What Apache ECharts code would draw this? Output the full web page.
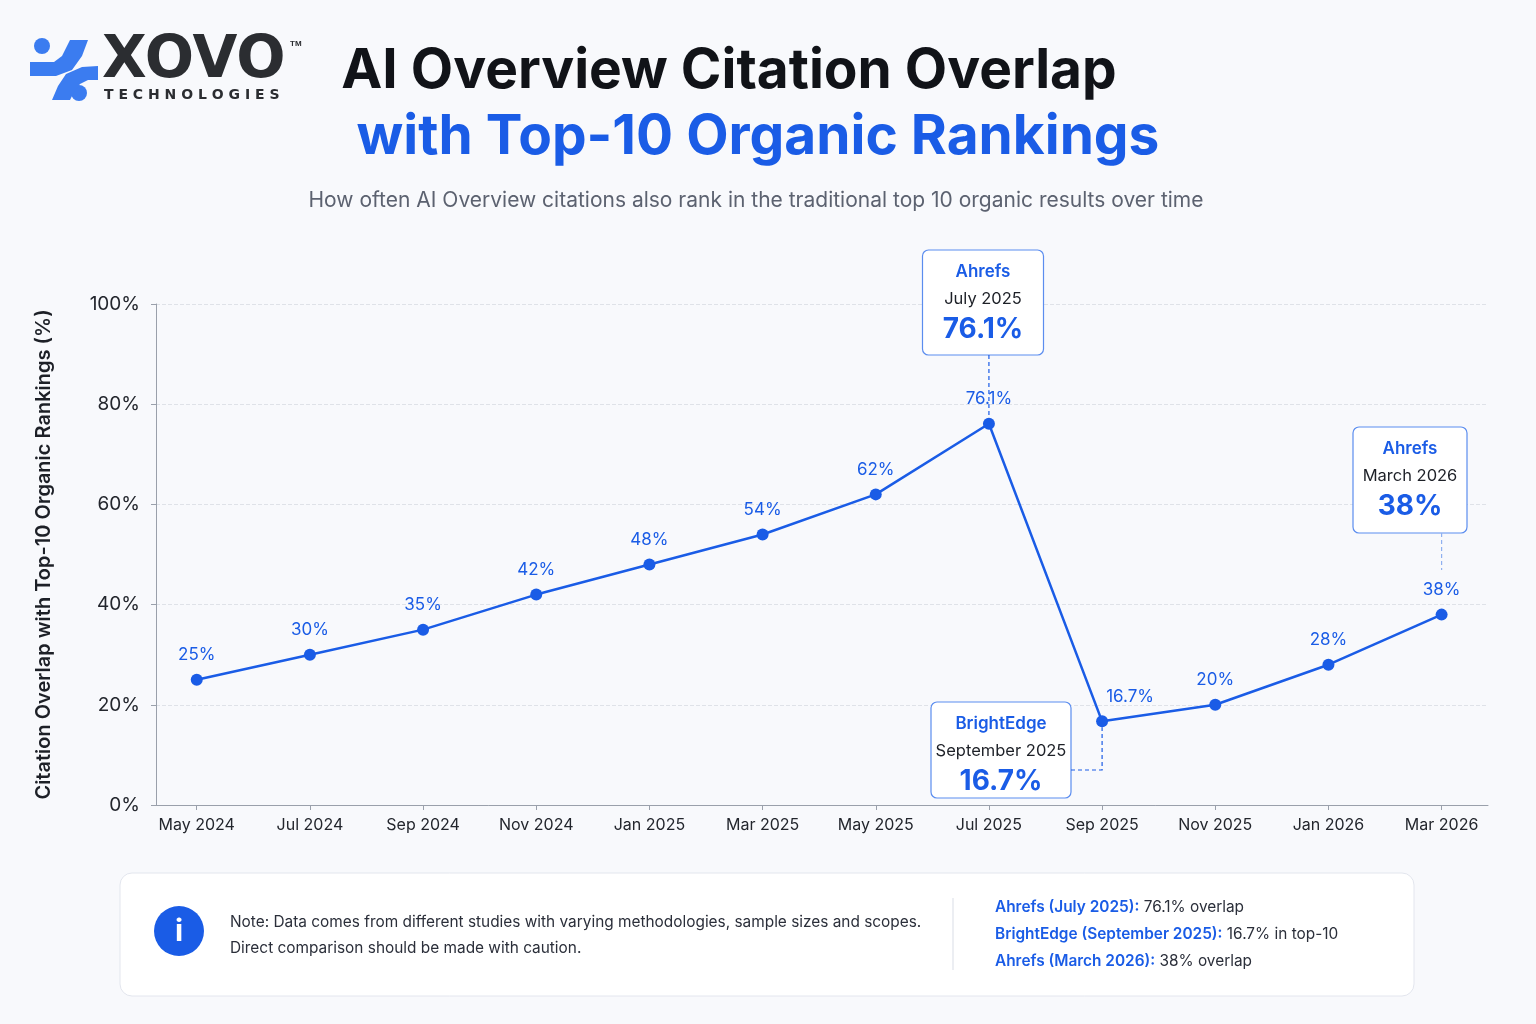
<!DOCTYPE html>
<html><head><meta charset="utf-8">
<script src="https://cdn.jsdelivr.net/npm/echarts@6/dist/echarts.min.js"></script>
<style>html,body{margin:0;padding:0;background:#f8f9fc}#c{width:1536px;height:1024px}</style>
</head><body><div id="c"></div>
<script>
const categories = ['May 2024','Jul 2024','Sep 2024','Nov 2024','Jan 2025','Mar 2025','May 2025','Jul 2025','Sep 2025','Nov 2025','Jan 2026','Mar 2026'];
const overlap = [25,30,35,42,48,54,62,76.1,16.7,20,28,38];
const pointLabels = ['25%','30%','35%','42%','48%','54%','62%','76.1%','16.7%','20%','28%','38%'];
const yTicks = [0,20,40,60,80,100];
const callouts = [
  {idx:7, source:'Ahrefs', date:'July 2025', value:'76.1%'},
  {idx:8, source:'BrightEdge', date:'September 2025', value:'16.7%'},
  {idx:11, source:'Ahrefs', date:'March 2026', value:'38%'}
];
const BLUE='#1a5ce6', F='Inter, "Noto Sans", sans-serif';
const chart = echarts.init(document.getElementById('c'));
const base = [
  {type:'circle',shape:{cx:42,cy:46,r:8},style:{fill:'#3b7cf0'}},
  {type:'circle',shape:{cx:79,cy:93,r:8},style:{fill:'#3b7cf0'}},
  {type:'polygon',shape:{points:[[30,62],[54,62],[62,56],[70,40],[88,40],[82,56],[72,70],[56,76],[30,76]]},style:{fill:'#3b7cf0'}},
  {type:'polygon',shape:{points:[[52,100],[58,86],[66,74],[82,67],[98,66],[98,80],[88,80],[80,84],[74,92],[70,100]]},style:{fill:'#3b7cf0'}},
  {type:'text',left:102,top:33,style:{text:'XOVO',font:'900 58px "DejaVu Sans", sans-serif',fill:'#2b2d31'}},
  {type:'text',left:290,top:40,style:{text:'TM',font:'bold 8px sans-serif',fill:'#2b2d31'}},
  {type:'text',left:104,top:88,style:{text:'T E C H N O L O G I E S',font:'bold 14px "DejaVu Sans", sans-serif',fill:'#2b2d31'}},
  {type:'text',x:729,y:71,style:{text:'AI Overview Citation Overlap',font:'bold 55px '+F,fill:'#111318',align:'center',verticalAlign:'middle'}},
  {type:'text',x:758,y:137,style:{text:'with Top-10 Organic Rankings',font:'bold 55px '+F,fill:BLUE,align:'center',verticalAlign:'middle'}},
  {type:'text',x:756,y:201,style:{text:'How often AI Overview citations also rank in the traditional top 10 organic results over time',font:'21px '+F,fill:'#5c6270',align:'center',verticalAlign:'middle'}},
  {type:'rect',shape:{x:120,y:873,width:1294,height:123,r:12},style:{fill:'#fff',stroke:'#e3e6ee',lineWidth:1}},
  {type:'circle',shape:{cx:179,cy:931,r:25},style:{fill:BLUE}},
  {type:'text',x:179,y:932,style:{text:'i',font:'bold 30px '+F,fill:'#fff',align:'center',verticalAlign:'middle'}},
  {type:'text',x:230,y:922,style:{text:'Note: Data comes from different studies with varying methodologies, sample sizes and scopes.',font:'15.4px '+F,fill:'#2b2f3a',verticalAlign:'middle'}},
  {type:'text',x:230,y:948,style:{text:'Direct comparison should be made with caution.',font:'15.4px '+F,fill:'#2b2f3a',verticalAlign:'middle'}},
  {type:'line',shape:{x1:953,y1:898,x2:953,y2:970},style:{stroke:'#d9dde6',lineWidth:1}}
];
const notes=[['Ahrefs (July 2025):',' 76.1% overlap'],['BrightEdge (September 2025):',' 16.7% in top-10'],['Ahrefs (March 2026):',' 38% overlap']];
notes.forEach((n,i)=>base.push({type:'text',x:995,y:907+i*27,style:{text:'{b|'+n[0]+'}{n|'+n[1]+'}',verticalAlign:'middle',rich:{b:{fontFamily:F,fontSize:15.4,fontWeight:600,fill:BLUE,color:BLUE},n:{fontFamily:F,fontSize:15.4,fill:'#2b2f3a',color:'#2b2f3a'}}}}));

chart.setOption({
  backgroundColor:'#f8f9fc',animation:false,
  grid:{left:156,right:48,top:304,bottom:219},
  xAxis:{type:'value',min:-0.36,max:11.41,splitLine:{show:false},
    axisLine:{show:true,onZero:false,lineStyle:{color:'#9aa0ab'}},
    axisTick:{show:true,customValues:categories.map((c,i)=>i),lineStyle:{color:'#9aa0ab'}},
    axisLabel:{customValues:categories.map((c,i)=>i),formatter:v=>categories[Math.round(v)],color:'#23262d',fontSize:16,fontFamily:F,margin:12}},
  yAxis:{type:'value',min:0,max:100,interval:20,
    name:'Citation Overlap with Top-10 Organic Rankings (%)',nameLocation:'middle',nameGap:102,
    nameTextStyle:{fontSize:20,fontWeight:600,color:'#1d2027',fontFamily:F},
    axisLine:{show:true,onZero:false,lineStyle:{color:'#9aa0ab'}},axisTick:{show:true,lineStyle:{color:'#9aa0ab'}},
    axisLabel:{formatter:'{value}%',color:'#23262d',fontSize:19,fontFamily:F,margin:16},
    splitLine:{lineStyle:{type:'dashed',color:'#dfe2e8'}}},
  series:[{type:'line',data:overlap.map((v,i)=>i===8?{value:[i,v],label:{offset:[28,0]}}:[i,v]),symbol:'circle',symbolSize:12,
    lineStyle:{color:BLUE,width:2.5},itemStyle:{color:BLUE},
    label:{show:true,position:'top',distance:10,formatter:p=>pointLabels[p.dataIndex],color:BLUE,fontSize:17,fontFamily:F}}],
  graphic:base
});

const g = base.slice();
const dash={stroke:BLUE,lineWidth:1.2,lineDash:[4,3]};
function box(cx,top,w,h,c){
  g.push({type:'rect',shape:{x:cx-w/2,y:top,width:w,height:h,r:6},style:{fill:'#fff',stroke:'#5b8def',lineWidth:1.2}});
  g.push({type:'text',x:cx,y:top+22,style:{text:c.source,font:'600 17px '+F,fill:BLUE,align:'center',verticalAlign:'middle'}});
  g.push({type:'text',x:cx,y:top+49,style:{text:c.date,font:'16.5px '+F,fill:'#1d2027',align:'center',verticalAlign:'middle'}});
  g.push({type:'text',x:cx,y:top+80,style:{text:c.value,font:'bold 28px '+F,fill:BLUE,align:'center',verticalAlign:'middle'}});
}
const p0=chart.convertToPixel({gridIndex:0},[callouts[0].idx,overlap[callouts[0].idx]]);
box(983,250,121,105,callouts[0]);
g.push({type:'line',shape:{x1:p0[0],y1:355,x2:p0[0],y2:p0[1]-6},style:dash});
const p1=chart.convertToPixel({gridIndex:0},[callouts[1].idx,overlap[callouts[1].idx]]);
box(1001,702,140,96,callouts[1]);
g.push({type:'polyline',shape:{points:[[1071,770],[p1[0],770],[p1[0],p1[1]+6]]},style:Object.assign({fill:null},dash)});
const p2=chart.convertToPixel({gridIndex:0},[callouts[2].idx,overlap[callouts[2].idx]]);
box(1410,427,114,106,callouts[2]);
g.push({type:'line',shape:{x1:p2[0],y1:533,x2:p2[0],y2:570},style:Object.assign({},dash,{stroke:'#8fb0f0'})});
chart.setOption({graphic:g},{replaceMerge:['graphic']});
</script></body></html>
